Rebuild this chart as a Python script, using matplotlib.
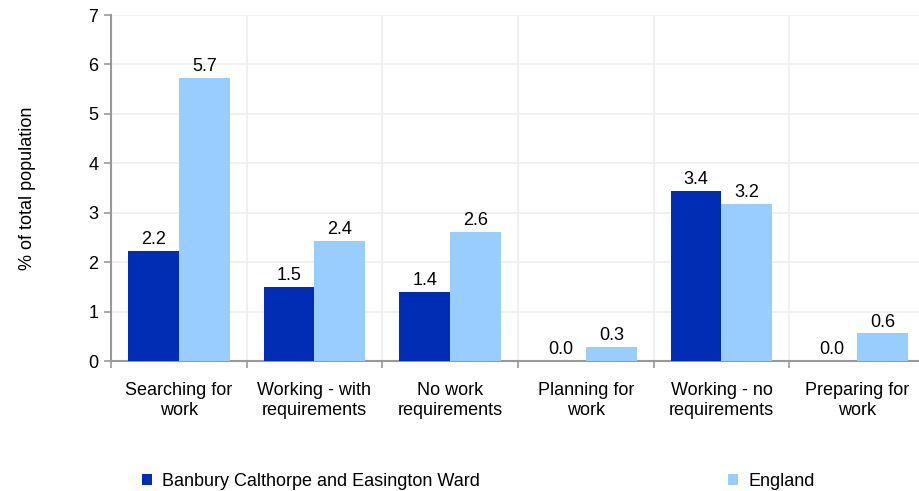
import matplotlib
matplotlib.use("Agg")
import matplotlib.pyplot as plt
import numpy as np
from matplotlib.patches import Patch

plt.rcParams['font.family'] = ['Liberation Sans', 'DejaVu Sans']

categories = ["Searching for\nwork", "Working - with\nrequirements", "No work\nrequirements",
              "Planning for\nwork", "Working - no\nrequirements", "Preparing for\nwork"]
series_names = ["Banbury Calthorpe and Easington Ward", "England"]
ward_values = [2.23, 1.50, 1.40, 0.0, 3.44, 0.0]
england_values = [5.73, 2.43, 2.61, 0.28, 3.18, 0.56]
colors = ["#002DB3", "#99CCFF"]

FS = 13

fig = plt.figure(figsize=(9.2, 4.91), dpi=100)
ax = fig.add_axes([111/920, (491-361)/491, (925-111)/920, (361-15)/491])

x = np.arange(len(categories))
w = 0.375
b1 = ax.bar(x - w/2, ward_values, w, color=colors[0], zorder=3)
b2 = ax.bar(x + w/2, england_values, w, color=colors[1], zorder=3)
for bars in (b1, b2):
    ax.bar_label(bars, labels=[f"{v:.1f}" for v in bars.datavalues], padding=2, fontsize=FS)

ax.set_xlim(-0.5, len(categories) - 0.5)
ax.set_ylim(0, 7)
ax.set_yticks(range(0, 8))
ax.set_xticks(x)
ax.set_xticklabels(categories, fontsize=FS, linespacing=1.24)
ax.set_xticks(np.arange(-0.5, len(categories), 1.0), minor=True)
ax.tick_params(axis='x', which='major', length=0, pad=15)
ax.tick_params(axis='x', which='minor', length=5, color='#999999', width=1.2)
ax.tick_params(axis='y', length=5, color='#999999', width=1.2, labelsize=FS, pad=4)

ax.grid(axis='y', color='#EEEEEE', linewidth=1.2, zorder=0)
ax.grid(axis='x', which='minor', color='#EEEEEE', linewidth=1.2, zorder=0)
for s in ['top', 'right']:
    ax.spines[s].set_visible(False)
for s in ['left', 'bottom']:
    ax.spines[s].set_color('#999999')
    ax.spines[s].set_linewidth(1.5)

ax.set_ylabel("% of total population", fontsize=FS, labelpad=38)

h1 = Patch(facecolor=colors[0])
h2 = Patch(facecolor=colors[1])
fig.legend([h1], [series_names[0]], loc='center left', bbox_to_anchor=(126/920, 1 - 481/491),
           frameon=False, fontsize=FS, handlelength=0.55, handleheight=0.55, handletextpad=0.55)
fig.legend([h2], [series_names[1]], loc='center left', bbox_to_anchor=(712/920, 1 - 481/491),
           frameon=False, fontsize=FS, handlelength=0.55, handleheight=0.55, handletextpad=0.55)

fig.savefig("out.png", dpi=100)
